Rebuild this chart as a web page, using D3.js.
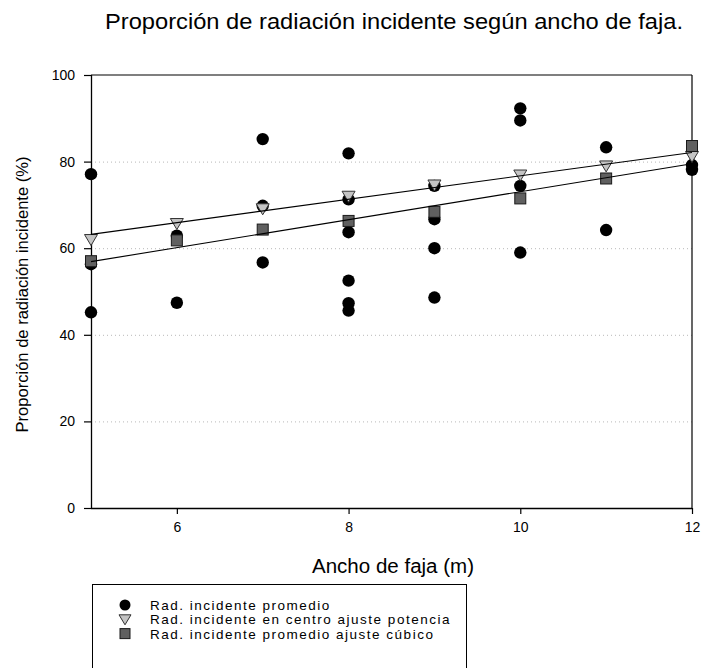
<!DOCTYPE html>
<html>
<head>
<meta charset="utf-8">
<script src="https://cdn.jsdelivr.net/npm/d3@7"></script>
<style>
  html, body { margin: 0; padding: 0; background: #fff; }
  svg { display: block; font-family: "Liberation Sans", Arial, sans-serif; }
</style>
</head>
<body>
<svg id="chart" width="702" height="668"></svg>
<script>
// ---- data ----
const titleText = "Proporción de radiación incidente según ancho de faja.";
const xLabel = "Ancho de faja (m)";
const yLabel = "Proporción de radiación incidente (%)";
const xTicks = [6, 8, 10, 12];
const yTicks = [0, 20, 40, 60, 80, 100];
const gridTicks = [20, 40, 60, 80];

// Rad. incidente promedio (observed points)
const promedioX = [5, 5, 5, 6, 6, 7, 7, 7, 8, 8, 8, 8, 8, 8, 9, 9, 9, 9, 10, 10, 10, 10, 11, 11, 12, 12];
const promedioY = [77.1, 56.3, 45.2, 62.9, 47.4, 85.2, 69.8, 56.7, 81.9, 71.3, 63.7, 52.5, 47.3, 45.6, 74.4, 66.7, 60.0, 48.6, 92.3, 89.5, 74.4, 59.0, 83.3, 64.2, 79.2, 78.1];

// Rad. incidente en centro ajuste potencia
const potenciaX = [5, 6, 7, 8, 9, 10, 11, 12];
const potenciaY = [62.0, 65.7, 69.1, 72.0, 74.6, 76.9, 79.0, 81.2];

// Rad. incidente promedio ajuste cúbico
const cubicoX = [5, 6, 7, 8, 9, 10, 11, 12];
const cubicoY = [57.0, 61.8, 64.3, 66.3, 68.4, 71.5, 76.1, 83.6];

// Fitted straight lines (endpoints)
const fitPotenciaX = [5, 12];
const fitPotenciaY = [63.2, 82.1];
const fitCubicoX = [5, 12];
const fitCubicoY = [56.9, 79.5];

const legendLabels = [
  "Rad. incidente promedio",
  "Rad. incidente en centro ajuste potencia",
  "Rad. incidente promedio ajuste cúbico"
];

// ---- drawing ----
const svg = d3.select("#chart");
const x = d3.scaleLinear().domain([5, 12]).range([91, 692]);
const y = d3.scaleLinear().domain([0, 100]).range([508, 75]);

// title
svg.append("text").attr("x", 394).attr("y", 29).attr("text-anchor", "middle")
  .attr("font-size", 22).attr("fill", "#000")
  .attr("textLength", 578).attr("lengthAdjust", "spacingAndGlyphs").text(titleText);

// gridlines
svg.append("g").selectAll("line").data(gridTicks).join("line")
  .attr("x1", x(5)).attr("x2", x(12))
  .attr("y1", d => y(d) + 0.5).attr("y2", d => y(d) + 0.5)
  .attr("stroke", "#b8b8b8").attr("stroke-width", 1).attr("stroke-dasharray", "1,3");

// frame (top and right)
svg.append("line").attr("x1", x(5)).attr("x2", x(12)).attr("y1", y(100)).attr("y2", y(100))
  .attr("stroke", "#000").attr("stroke-width", 1.2);
svg.append("line").attr("x1", x(12)).attr("x2", x(12)).attr("y1", y(100)).attr("y2", y(0))
  .attr("stroke", "#000").attr("stroke-width", 1.2);

// axes
const yAxis = d3.axisLeft(y).tickValues(yTicks).tickSize(7).tickPadding(9).tickFormat(d3.format("d"));
const gy = svg.append("g").attr("transform", `translate(${x(5)},0)`).call(yAxis);
const xAxis = d3.axisBottom(x).tickValues(xTicks).tickSize(6).tickPadding(8).tickFormat(d3.format("d"));
const gx = svg.append("g").attr("transform", `translate(0,${y(0)})`).call(xAxis);
[gx, gy].forEach(g => {
  g.attr("font-size", 14).attr("font-family", "'Liberation Sans', Arial, sans-serif");
  g.select(".domain").attr("stroke", "#000").attr("stroke-width", 1.3);
  g.selectAll(".tick line").attr("stroke", "#000").attr("stroke-width", 1.2);
  g.selectAll(".tick text").attr("fill", "#000");
});
gx.select(".domain").attr("d", `M${x(5)},0.5H${x(12)}`);
gy.select(".domain").attr("d", `M0.5,${y(0)}V${y(100)}`);

// axis labels
svg.append("text").attr("x", 393).attr("y", 573).attr("text-anchor", "middle")
  .attr("font-size", 19.5).attr("fill", "#000")
  .attr("textLength", 162).attr("lengthAdjust", "spacingAndGlyphs").text(xLabel);
svg.append("text").attr("transform", `translate(28,${y(50) + 3}) rotate(-90)`)
  .attr("text-anchor", "middle").attr("font-size", 17).attr("fill", "#000")
  .attr("textLength", 276).attr("lengthAdjust", "spacingAndGlyphs").text(yLabel);

// markers
const dotR = 6.2;
svg.append("g").selectAll("circle").data(promedioX.map((d, i) => [d, promedioY[i]])).join("circle")
  .attr("cx", d => x(d[0])).attr("cy", d => y(d[1])).attr("r", dotR).attr("fill", "#000");

const tri = (cx, cy) => `M${cx - 6.5},${cy - 5}L${cx + 6.5},${cy - 5}L${cx},${cy + 6}Z`;
svg.append("g").selectAll("path").data(potenciaX.map((d, i) => [d, potenciaY[i]])).join("path")
  .attr("d", d => tri(x(d[0]), y(d[1])))
  .attr("fill", "#c4c4c4").attr("stroke", "#333").attr("stroke-width", 1);

svg.append("g").selectAll("rect").data(cubicoX.map((d, i) => [d, cubicoY[i]])).join("rect")
  .attr("x", d => x(d[0]) - 5.5).attr("y", d => y(d[1]) - 5.5)
  .attr("width", 11).attr("height", 11)
  .attr("fill", "#606060").attr("stroke", "#1a1a1a").attr("stroke-width", 1);

// fitted lines
const lineGen = d3.line().x(d => x(d[0])).y(d => y(d[1]));
[[fitPotenciaX, fitPotenciaY], [fitCubicoX, fitCubicoY]].forEach(([xs, ys]) => {
  svg.append("path").datum(xs.map((d, i) => [d, ys[i]])).attr("d", lineGen)
    .attr("fill", "none").attr("stroke", "#000").attr("stroke-width", 1.1);
});

// legend
const lg = svg.append("g");
lg.append("rect").attr("x", 92.5).attr("y", 584.5).attr("width", 374).attr("height", 100)
  .attr("fill", "#fff").attr("stroke", "#000").attr("stroke-width", 1);
const rowY = [605, 619.3, 633.6];
lg.append("circle").attr("cx", 125).attr("cy", rowY[0]).attr("r", 5.5).attr("fill", "#000");
lg.append("path").attr("d", `M${125 - 6},${rowY[1] - 4.5}L${125 + 6},${rowY[1] - 4.5}L125,${rowY[1] + 5.5}Z`)
  .attr("fill", "#c4c4c4").attr("stroke", "#333").attr("stroke-width", 1);
lg.append("rect").attr("x", 125 - 5).attr("y", rowY[2] - 5).attr("width", 10).attr("height", 10)
  .attr("fill", "#606060").attr("stroke", "#1a1a1a").attr("stroke-width", 1);
lg.selectAll("text.lt").data(legendLabels).join("text").attr("class", "lt")
  .attr("x", 150).attr("y", (d, i) => rowY[i] + 5).attr("font-size", 13.5)
  .attr("letter-spacing", 1.5).attr("fill", "#000")
  .text(d => d);
</script>
</body>
</html>
